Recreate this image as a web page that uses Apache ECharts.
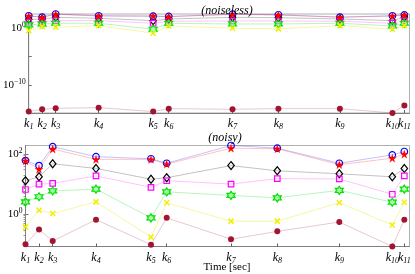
<!DOCTYPE html>
<html><head><meta charset="utf-8">
<script src="https://cdn.jsdelivr.net/npm/echarts@6/dist/echarts.min.js"></script>
<style>html,body{margin:0;padding:0;background:#fff}#c{width:415px;height:274px}</style>
</head><body><div id="c"></div>
<script>
// time instants k1..k11 (seconds, estimated)
const times = [0, 0.352, 0.708, 1.836, 3.268, 3.677, 5.352, 6.557, 8.172, 9.552, 9.865];
const kLabels = ['1','2','3','4','5','6','7','8','9','10','11'];

// (noiseless)
const nlBlue    = [132, 79, 269, 132, 112, 100, 251, 200, 79, 132, 191];
const nlRed     = [120, 71, 240, 120, 120, 91, 234, 178, 71, 120, 178];
const nlBlack   = [32, 32, 71, 48, 18.6, 36, 71, 62, 36, 18.6, 71];
const nlMagenta = [9.8, 12.3, 18.6, 18.6, 6.5, 14.5, 16.2, 16.2, 14.5, 6.5, 18.6];
const nlGreen   = [3.3, 4.9, 6.5, 6.5, 0.59, 6.5, 4.9, 4.9, 6.5, 2.2, 6.5];
const nlYellow  = [0.34, 1.7, 1.3, 2.5, 0.12, 2.2, 0.89, 0.68, 2.5, 0.59, 2.5];
const nlDarkRed = [2.5e-15, 6.2e-15, 9.1e-15, 1.2e-14, 2.5e-15, 8.1e-15, 6.2e-15, 8.1e-15, 8.1e-15, 1.4e-15, 3.0e-14];

// (noisy)
const nyBlue    = [60, 41, 174, 81, 69, 49, 190, 155, 49, 93, 120];
const nyRed     = [59, 31, 145, 66, 66, 46, 155, 148, 44, 72, 98];
const nyBlack   = [12.9, 17.4, 47, 33, 14.5, 16.2, 41, 27.5, 21.9, 17.4, 33];
const nyMagenta = [6.6, 10, 10.5, 18.6, 7.8, 12.9, 10, 15.1, 14.8, 4.6, 18.6];
const nyGreen   = [2.57, 3.8, 5.9, 6.8, 0.76, 5.5, 4.2, 3.5, 6.2, 2.5, 6.8];
const nyYellow  = [0.38, 1.35, 1.05, 2.57, 0.174, 2.4, 0.59, 0.59, 2.4, 0.44, 2.5];
const nyDarkRed = [0.1, 0.31, 0.129, 0.66, 0.098, 0.76, 0.148, 0.27, 0.55, 0.085, 0.66];

// tick values
const topMajor = [1e-10, 1e-5, 1];
const topLabels = [1e-10, 1];
const botLabels = [1, 100];
const botTicks = [0.1,0.2,0.3,0.4,0.5,0.6,0.7,0.8,0.9,1,2,3,4,5,6,7,8,9,10,20,30,40,50,60,70,80,90,100,200];

function star(n, rIn) {
  let p = [];
  for (let i = 0; i < 2 * n; i++) {
    const r = i % 2 ? rIn : 1;
    const a = -Math.PI / 2 + i * Math.PI / n;
    p.push((50 + 50 * r * Math.cos(a)).toFixed(2) + ',' + (50 + 50 * r * Math.sin(a)).toFixed(2));
  }
  return 'path://M' + p.join('L') + 'Z';
}
const PENT = star(5, 0.382);
const HEX = star(6, 0.577);
const XMARK = 'path://M0,0L10,10M10,0L0,10';

const SERIF = '"Liberation Serif", "DejaVu Serif", serif';

function mk(idx, data, style) {
  return {
    type: 'line', xAxisIndex: idx * 2, yAxisIndex: idx * 2,
    data: data.map((v, i) => [times[i], v]),
    symbol: style.symbol, symbolSize: style.size,
    lineStyle: { color: style.line, width: 0.8 },
    itemStyle: { color: style.fill, borderColor: style.stroke, borderWidth: style.bw },
    z: style.z, animation: false, silent: true
  };
}
const styles = {
  blue:    { symbol: 'circle', size: 6.5, fill: 'rgba(0,0,0,0)', stroke: '#0000ff', bw: 1.2, line: 'rgba(0,0,255,0.3)', z: 3 },
  red:     { symbol: PENT, size: 8, fill: '#ff0000', stroke: '#ff0000', bw: 0.3, line: 'rgba(255,0,0,0.3)', z: 4 },
  black:   { symbol: 'diamond', size: [6.5, 8], fill: 'rgba(0,0,0,0)', stroke: '#000000', bw: 1.2, line: 'rgba(0,0,0,0.3)', z: 3 },
  magenta: { symbol: 'rect', size: 5.5, fill: 'rgba(0,0,0,0)', stroke: '#ff00ff', bw: 1.2, line: 'rgba(255,0,255,0.3)', z: 3 },
  green:   { symbol: HEX, size: 8, fill: 'rgba(120,255,120,0.5)', stroke: '#00e000', bw: 1.2, line: 'rgba(0,220,0,0.35)', z: 3 },
  yellow:  { symbol: XMARK, size: 5, fill: 'rgba(0,0,0,0)', stroke: '#f0f000', bw: 1.5, line: 'rgba(230,230,0,0.45)', z: 3 },
  darkred: { symbol: 'circle', size: 6, fill: '#A2142F', stroke: '#A2142F', bw: 0, line: 'rgba(162,20,47,0.3)', z: 3 }
};

const kRich = {
  k: { fontFamily: SERIF, fontStyle: 'italic', fontSize: 12, color: '#000', lineHeight: 13 },
  s: { fontFamily: SERIF, fontStyle: 'italic', fontSize: 8, color: '#000', verticalAlign: 'bottom', padding: [6, 0, 0, 0] }
};
function kFmt(v) {
  let bi = 0;
  times.forEach((t, i) => { if (Math.abs(t - v) < Math.abs(times[bi] - v)) bi = i; });
  return '{k|k}{s|' + kLabels[bi] + '}';
}
function xAxesFor(idx) {
  return [{
    type: 'value', gridIndex: idx, min: 0, max: 10,
    axisLine: { show: true, lineStyle: { color: '#808080', width: 1 } },
    axisTick: { show: true, inside: true, length: 3, customValues: times, lineStyle: { color: '#606060' } },
    splitLine: { show: false },
    axisLabel: { customValues: times.slice(0, 10), margin: 4, hideOverlap: false, formatter: kFmt, rich: kRich }
  }, {
    // separate axis carrying the last label, which touches its neighbour
    type: 'value', gridIndex: idx, min: 0, max: 10, position: 'bottom',
    axisLine: { show: false }, axisTick: { show: false }, splitLine: { show: false },
    axisLabel: { customValues: times.slice(10), margin: 4, formatter: kFmt, rich: kRich }
  }];
}
function yLabelFmt(v) {
  const e = Math.round(Math.log10(v));
  return '{b|10}{e|' + (e < 0 ? '\u2212' + (-e) : e) + '}';
}
const yRich = {
  b: { fontFamily: SERIF, fontSize: 11, color: '#000', lineHeight: 12 },
  e: { fontFamily: SERIF, fontSize: 7.5, color: '#000', verticalAlign: 'top', padding: [0, 0, 6, 0] }
};
function yAxesFor(idx, major, labels, minor) {
  return [{
    type: 'log', logBase: 10, gridIndex: idx,
    min: v => v.min, max: v => v.max,
    axisLine: { show: true, lineStyle: { color: '#808080', width: 1 } },
    axisTick: { show: true, inside: true, length: 3, customValues: major, lineStyle: { color: '#707070' } },
    splitLine: { show: false },
    axisLabel: { customValues: labels, formatter: yLabelFmt, rich: yRich, margin: 3 }
  }, {
    type: 'log', logBase: 10, gridIndex: idx, position: 'right',
    min: v => v.min, max: v => v.max,
    axisLine: { show: false },
    axisTick: { show: !!minor, inside: true, length: 2, customValues: minor || major, lineStyle: { color: '#909090' } },
    splitLine: { show: false },
    axisLabel: { show: false }
  }];
}

const series = [];
[[nlBlue,'blue'],[nlRed,'red'],[nlBlack,'black'],[nlMagenta,'magenta'],[nlGreen,'green'],[nlYellow,'yellow'],[nlDarkRed,'darkred']]
  .forEach(([d, s]) => series.push(mk(0, d, styles[s])));
[[nyBlue,'blue'],[nyRed,'red'],[nyBlack,'black'],[nyMagenta,'magenta'],[nyGreen,'green'],[nyYellow,'yellow'],[nyDarkRed,'darkred']]
  .forEach(([d, s]) => series.push(mk(1, d, styles[s])));
// invisible series so the right-hand y axes get the same data extent
series.push({ type: 'line', xAxisIndex: 0, yAxisIndex: 1, data: nlBlue.concat(nlDarkRed).map(v => [0, v]), symbol: 'none', lineStyle: { opacity: 0 }, silent: true, animation: false });
series.push({ type: 'line', xAxisIndex: 2, yAxisIndex: 3, data: nyBlue.concat(nyDarkRed).map(v => [0, v]), symbol: 'none', lineStyle: { opacity: 0 }, silent: true, animation: false });

const chart = echarts.init(document.getElementById('c'), null, { renderer: 'canvas' });
chart.setOption({
  animation: false,
  backgroundColor: '#fff',
  title: [
    { text: '(noiseless)', left: 222, top: 0, textAlign: 'center', textStyle: { fontFamily: SERIF, fontStyle: 'italic', fontWeight: 'normal', fontSize: 12, color: '#000' } },
    { text: '(noisy)', left: 220, top: 127, textAlign: 'center', textStyle: { fontFamily: SERIF, fontStyle: 'italic', fontWeight: 'normal', fontSize: 12, color: '#000' } },
    { text: 'Time [sec]', left: 222, top: 257, textAlign: 'center', textStyle: { fontFamily: SERIF, fontWeight: 'normal', fontSize: 11, color: '#000' } }
  ],
  grid: [
    { left: 25.5, right: 5.5, top: 14, height: 99, show: true, borderColor: '#b0b0b0', borderWidth: 1 },
    { left: 25.5, right: 5.5, top: 145.5, height: 101, show: true, borderColor: '#b0b0b0', borderWidth: 1 }
  ],
  xAxis: xAxesFor(0).concat(xAxesFor(1)),
  yAxis: yAxesFor(0, topMajor, topLabels, null).concat(yAxesFor(1, botLabels, botLabels, botTicks)),
  series: series
});
</script>
</body></html>
